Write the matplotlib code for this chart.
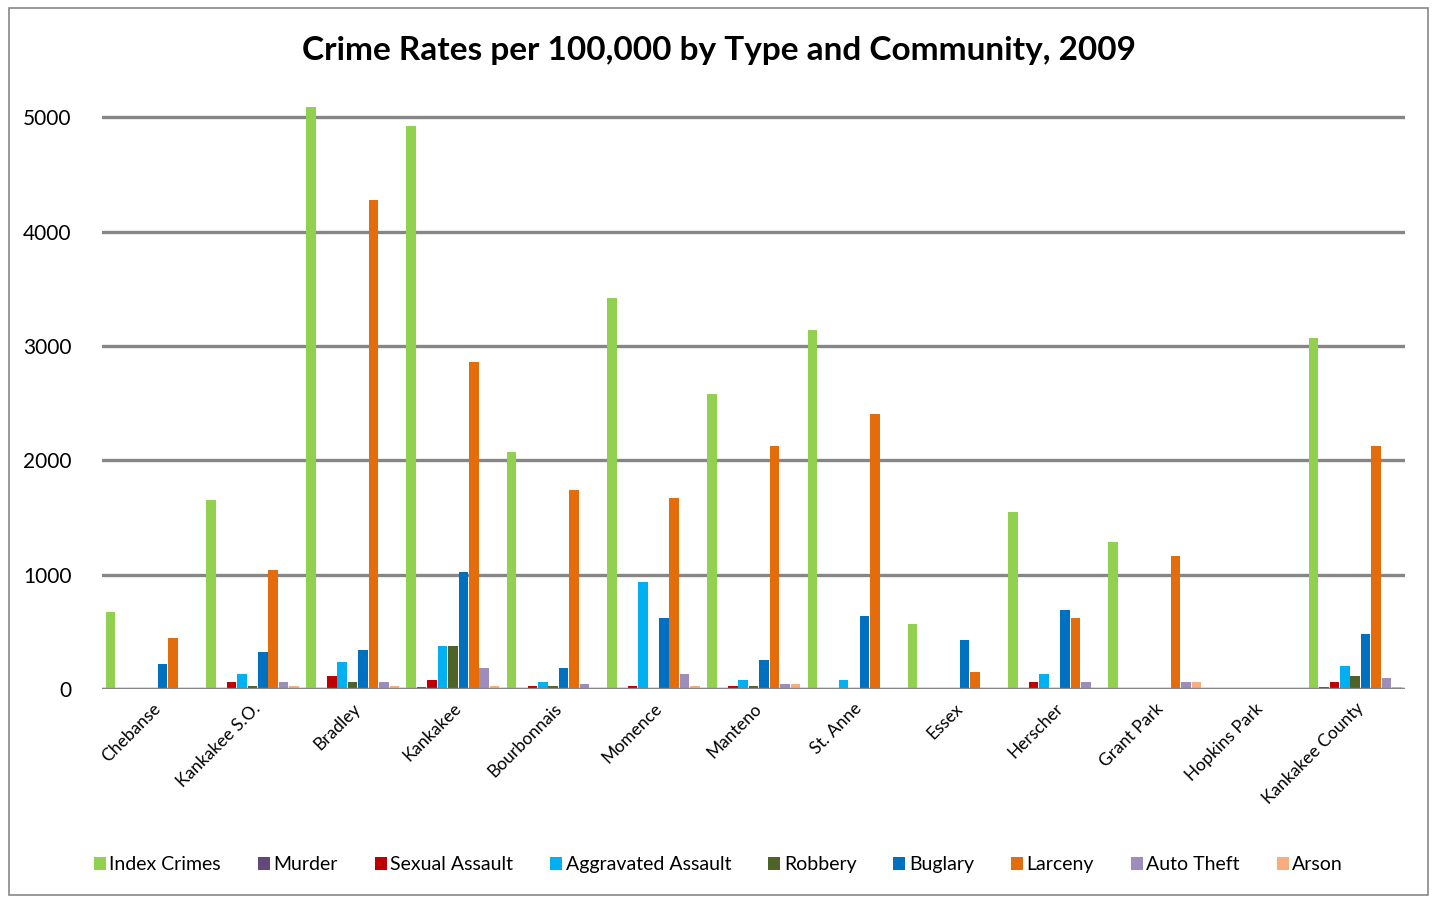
import numpy as np
import matplotlib.pyplot as plt
from matplotlib.patches import Rectangle

plt.rcParams['font.family'] = ['Lato', 'DejaVu Sans']

communities = ['Chebanse', 'Kankakee S.O.', 'Bradley', 'Kankakee', 'Bourbonnais',
               'Momence', 'Manteno', 'St. Anne', 'Essex', 'Herscher', 'Grant Park',
               'Hopkins Park', 'Kankakee County']

index_crimes = [675, 1652, 5095, 4921, 2072, 3418, 2579, 3138, 568, 1547, 1285, 0, 3068]
murder = [0, 0, 0, 20, 0, 0, 0, 0, 0, 0, 0, 0, 20]
sexual_assault = [0, 61, 114, 79, 26, 26, 26, 0, 0, 61, 0, 0, 61]
aggravated_assault = [0, 131, 236, 376, 61, 935, 79, 79, 0, 131, 0, 0, 201]
robbery = [0, 26, 61, 376, 26, 0, 26, 0, 0, 0, 0, 0, 114]
buglary = [219, 323, 341, 1023, 184, 621, 253, 638, 428, 690, 0, 0, 481]
larceny = [446, 1040, 4274, 2858, 1740, 1670, 2124, 2404, 149, 621, 1163, 0, 2124]
auto_theft = [0, 61, 61, 184, 44, 131, 44, 0, 0, 61, 61, 0, 96]
arson = [0, 26, 26, 26, 0, 26, 44, 0, 0, 0, 61, 0, 20]

series = [('Index Crimes', index_crimes, '#92D050'),
          ('Murder', murder, '#604A7B'),
          ('Sexual Assault', sexual_assault, '#C00000'),
          ('Aggravated Assault', aggravated_assault, '#00B0F0'),
          ('Robbery', robbery, '#4F6228'),
          ('Buglary', buglary, '#0070C0'),
          ('Larceny', larceny, '#E46C0A'),
          ('Auto Theft', auto_theft, '#9C8DBA'),
          ('Arson', arson, '#F9AC7E')]

fig = plt.figure(figsize=(14.37, 9), dpi=100)
fig.patches.append(Rectangle((0.006, 0.006), 0.988, 0.985, transform=fig.transFigure,
                             fill=False, edgecolor='#888888', linewidth=1.2))
ax = fig.add_axes([0.0710, 0.2344, 0.907, 0.6478])

x = np.arange(len(communities))
w = 0.935 / len(series)
for i, (name, vals, col) in enumerate(series):
    ax.bar(x - 0.4675 + w * (i + 0.5), vals, width=w * 0.92, color=col, label=name, zorder=3)

ax.set_xlim(-0.5, len(communities) - 0.5)
ax.set_ylim(0, 5100)
ax.set_yticks([0, 1000, 2000, 3000, 4000, 5000])
ax.yaxis.grid(True, color='#868686', linewidth=2.4, zorder=0)
for s in ax.spines.values():
    s.set_visible(False)
ax.axhline(0, color='#868686', linewidth=2.4, zorder=4)
ax.tick_params(axis='y', length=0, labelsize=15, pad=22)
ax.tick_params(axis='x', length=0, labelsize=12.5, pad=8)
ax.set_xticks(x)
ax.set_xticklabels(communities, rotation=45, ha='right', rotation_mode='anchor')

fig.text(0.5, 0.944, 'Crime Rates per 100,000 by Type and Community, 2009',
         ha='center', va='center', fontsize=24, fontweight='bold')

fig.legend(loc='center', bbox_to_anchor=(0.5, 0.039), ncol=9, frameon=False,
           fontsize=14, handlelength=0.6, handleheight=0.6, handletextpad=0.2,
           columnspacing=1.9)

fig.savefig('out.png', dpi=100)
